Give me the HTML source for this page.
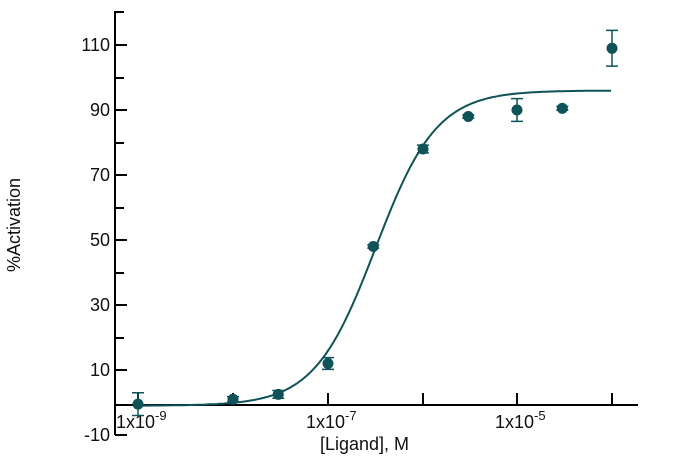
<!DOCTYPE html><html><head><style>body{margin:0;background:#fff}text{font-family:"Liberation Sans",sans-serif;font-size:18px;fill:#111}</style></head><body>
<svg width="680" height="456" xmlns="http://www.w3.org/2000/svg">
<g stroke="#000" stroke-width="2" fill="none">
<path d="M124 12H115V405H638"/>
<path d="M115 45H127M115 78H124M115 110H127M115 143H124M115 175H127M115 208H124M115 240H127M115 273H124M115 305H127M115 338H124M115 370H127M115 435H127M115 435V405"/>
<path d="M138 405V393M233 405V393M328 405V393M423 405V393M517 405V393M612 405V393"/>
</g>
<g text-anchor="end">
<text x="110" y="51">110</text><text x="110" y="116">90</text><text x="110" y="181">70</text><text x="110" y="246">50</text><text x="110" y="311">30</text><text x="110" y="376">10</text><text x="110" y="441">-10</text>
</g>
<text x="116" y="428">1x10<tspan dy="-8" font-size="13">-9</tspan></text>
<text x="306" y="428">1x10<tspan dy="-8" font-size="13">-7</tspan></text>
<text x="495" y="428">1x10<tspan dy="-8" font-size="13">-5</tspan></text>
<text x="320" y="450">[Ligand], M</text>
<text transform="translate(20 225) rotate(-90)" text-anchor="middle">%Activation</text>
<path id="c" fill="none" stroke="#0f5257" stroke-width="2" d=""/>
<g stroke="#0f5257" stroke-width="1.5" fill="none">
<path d="M138 392.7V415.5M132 392.7H144M132 415.5H144"/>
<path d="M233 396.6V401.9M227 396.6H239M227 401.9H239"/>
<path d="M278.3 390.5V398.3M272.3 390.5H284.3M272.3 398.3H284.3"/>
<path d="M328 357.6V369.4M322 357.6H334M322 369.4H334"/>
<path d="M373.3 244.9V248.1M367.3 244.9H379.3M367.3 248.1H379.3"/>
<path d="M423 145.1V152.9M417 145.1H429M417 152.9H429"/>
<path d="M468.3 114.9V118.1M462.3 114.9H474.3M462.3 118.1H474.3"/>
<path d="M517 98.6V121.4M511 98.6H523M511 121.4H523"/>
<path d="M562.3 106.4V110.3M556.3 106.4H568.3M556.3 110.3H568.3"/>
<path d="M612 30.4V66.1M606 30.4H618M606 66.1H618"/>
</g>
<g fill="#0f5257">
<circle cx="138" cy="404.1" r="5.5"/><circle cx="233" cy="399.3" r="5.5"/><circle cx="278.3" cy="394.4" r="5.5"/><circle cx="328" cy="363.5" r="5.5"/><circle cx="373.3" cy="246.5" r="5.5"/><circle cx="423" cy="149" r="5.5"/><circle cx="468.3" cy="116.5" r="5.5"/><circle cx="517" cy="110" r="5.5"/><circle cx="562.3" cy="108.4" r="5.5"/><circle cx="612" cy="48.3" r="5.5"/>
</g>
<script>
var d="",X=function(l){return 138+(l+9)*95},Y=function(v){return 402.5-3.25*v};
for(var l=-9;l<=-4.0001;l+=0.02){var v=-1+97/(1+Math.pow(10,1.35*(-6.5-l)));d+=(d?"L":"M")+X(l).toFixed(1)+" "+Y(v).toFixed(1);}
document.getElementById("c").setAttribute("d",d);
</script>
</svg></body></html>
